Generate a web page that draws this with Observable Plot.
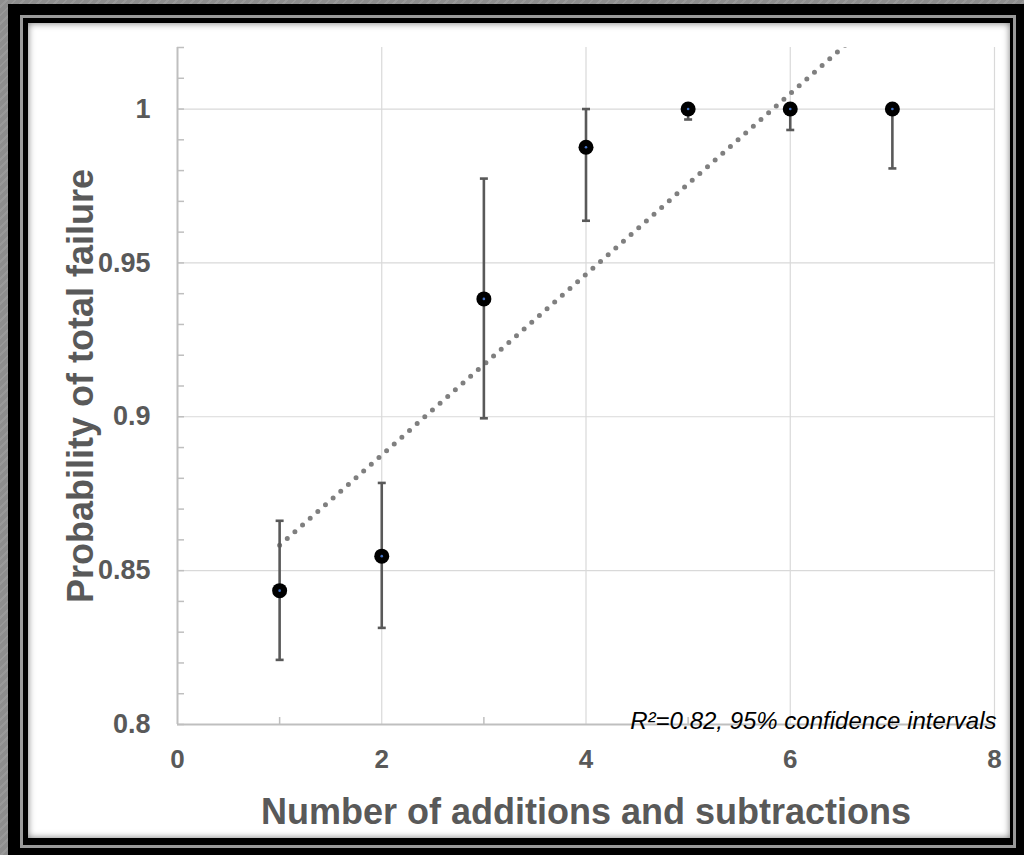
<!DOCTYPE html>
<html>
<head>
<meta charset="utf-8">
<script src="https://cdn.jsdelivr.net/npm/d3@7"></script>
<script src="https://cdn.jsdelivr.net/npm/@observablehq/plot@0.6"></script>
<style>
  html, body { margin: 0; padding: 0; }
  body {
    width: 1024px; height: 855px; position: relative; overflow: hidden;
    background: repeating-linear-gradient(135deg, #8e8e8e 0px, #8e8e8e 4px, #999 4px, #999 6px);
    font-family: "Liberation Sans", Arial, sans-serif;
  }
  #outer { position: absolute; left: 8px; top: 4px; right: 0; bottom: 0; background: #000; }
  #line { position: absolute; left: 20px; top: 15px; width: 996px; height: 833px; box-sizing: border-box;
          border: 3px solid #9a9a9a; background: #000; }
  #panel { position: absolute; left: 28px; top: 23px; width: 982px; height: 815px; background: #fff;
           box-shadow: inset 0 0 7px rgba(0,0,0,0.55); }
  #chart { position: absolute; left: 0; top: 0; }
</style>
</head>
<body>
<div id="outer"></div>
<div id="line"></div>
<div id="panel"></div>
<div id="chart"></div>
<script>
// ---- data ----
const additions = [1, 2, 3, 4, 5, 6, 7];
const failureProb = [0.8435, 0.8547, 0.9383, 0.9876, 1.0, 1.0, 1.0];
const ciLow = [0.821, 0.8314, 0.8995, 0.9637, 0.9966, 0.9932, 0.9807];
const ciHigh = [0.8662, 0.8785, 0.9774, 1.0, 1.0, 1.0, 1.0];

const xDomain = [0, 8];
const yDomain = [0.8, 1.02];
const xTicks = [0, 2, 4, 6, 8];
const xTickLabels = ["0", "2", "4", "6", "8"];
const xMinorTicks = [1, 3, 5, 7];
const yTicks = [0.8, 0.85, 0.9, 0.95, 1];
const yTickLabels = ["0.8", "0.85", "0.9", "0.95", "1"];
const yMinorTicks = d3.range(80, 103).map(v => v / 100);

const xTitle = "Number of additions and subtractions";
const yTitle = "Probability of total failure";
const note = "R\u00B2=0.82, 95% confidence intervals";

const data = additions.map((x, i) => ({x, p: failureProb[i], lo: ciLow[i], hi: ciHigh[i]}));
const caps = data.flatMap(d => [{x: d.x, y: d.lo}, {x: d.x, y: d.hi}]);

const capSymbol = {
  draw(context, size) {
    const r = Math.sqrt(size / Math.PI);
    context.moveTo(-r, 0);
    context.lineTo(r, 0);
  }
};

const labelColor = "#595959";
const font = "Liberation Sans, Arial, sans-serif";

const chart = Plot.plot({
  width: 1024,
  height: 855,
  marginLeft: 177,
  marginRight: 30,
  marginTop: 47,
  marginBottom: 131,
  style: {background: "transparent", fontFamily: font, overflow: "visible"},
  x: {domain: xDomain},
  y: {domain: yDomain},
  marks: [
    Plot.gridX({ticks: xTicks.slice(1), stroke: "#d9d9d9", strokeOpacity: 1, strokeWidth: 1.2}),
    Plot.gridY({ticks: yTicks.slice(1), stroke: "#d9d9d9", strokeOpacity: 1, strokeWidth: 1.2}),
    Plot.ruleX([xDomain[0]], {stroke: "#bfbfbf", strokeWidth: 2}),
    Plot.ruleY([yDomain[0]], {stroke: "#bfbfbf", strokeWidth: 2}),
    // minor ticks
    Plot.axisY({ticks: yMinorTicks, tickSize: 7, dx: 7, text: null, stroke: "#bfbfbf", strokeWidth: 1.5, label: null}),
    Plot.axisX({ticks: xMinorTicks, tickSize: 7, dy: -7, text: null, stroke: "#bfbfbf", strokeWidth: 1.5, label: null}),
    // tick labels
    Plot.axisY({ticks: yTicks, tickSize: 0, tickPadding: 27, tickFormat: (d, i) => yTickLabels[i],
      color: labelColor, fontSize: 27, fontWeight: "bold", label: null}),
    Plot.axisX({ticks: xTicks, tickSize: 0, tickPadding: 25, tickFormat: (d, i) => xTickLabels[i],
      color: labelColor, fontSize: 26, fontWeight: "bold", label: null}),
    // trend line
    Plot.linearRegressionY(data, {x: "x", y: "p", ci: 0, stroke: "#7f7f7f", strokeWidth: 5,
      strokeDasharray: "0,10.2", strokeLinecap: "round", clip: true}),
    // error bars
    Plot.ruleX(data, {x: "x", y1: "lo", y2: "hi", stroke: "#595959", strokeWidth: 2.6}),
    Plot.dot(caps, {x: "x", y: "y", symbol: capSymbol, r: 4, stroke: "#595959", strokeWidth: 2.6, fill: "none"}),
    // points
    Plot.dot(data, {x: "x", y: "p", r: 7.5, fill: "#000", stroke: "none"}),
    Plot.dot(data, {x: "x", y: "p", r: 1.3, fill: "#4472c4", stroke: "none"}),
    // annotation
    Plot.text([note], {text: d => d, frameAnchor: "bottom-right", lineAnchor: "bottom", dy: 4, dx: 2,
      fontSize: 24, fontStyle: "italic", fill: "#000"}),
    // axis titles
    Plot.text([xTitle], {text: d => d, frameAnchor: "bottom", lineAnchor: "bottom", dy: 99,
      fontSize: 36, fontWeight: "bold", fill: labelColor}),
    Plot.text([yTitle], {text: d => d, frameAnchor: "left", textAnchor: "middle", lineAnchor: "middle",
      rotate: -90, dx: -96, fontSize: 36, fontWeight: "bold", fill: labelColor})
  ]
});
document.getElementById("chart").appendChild(chart);
</script>
</body>
</html>
